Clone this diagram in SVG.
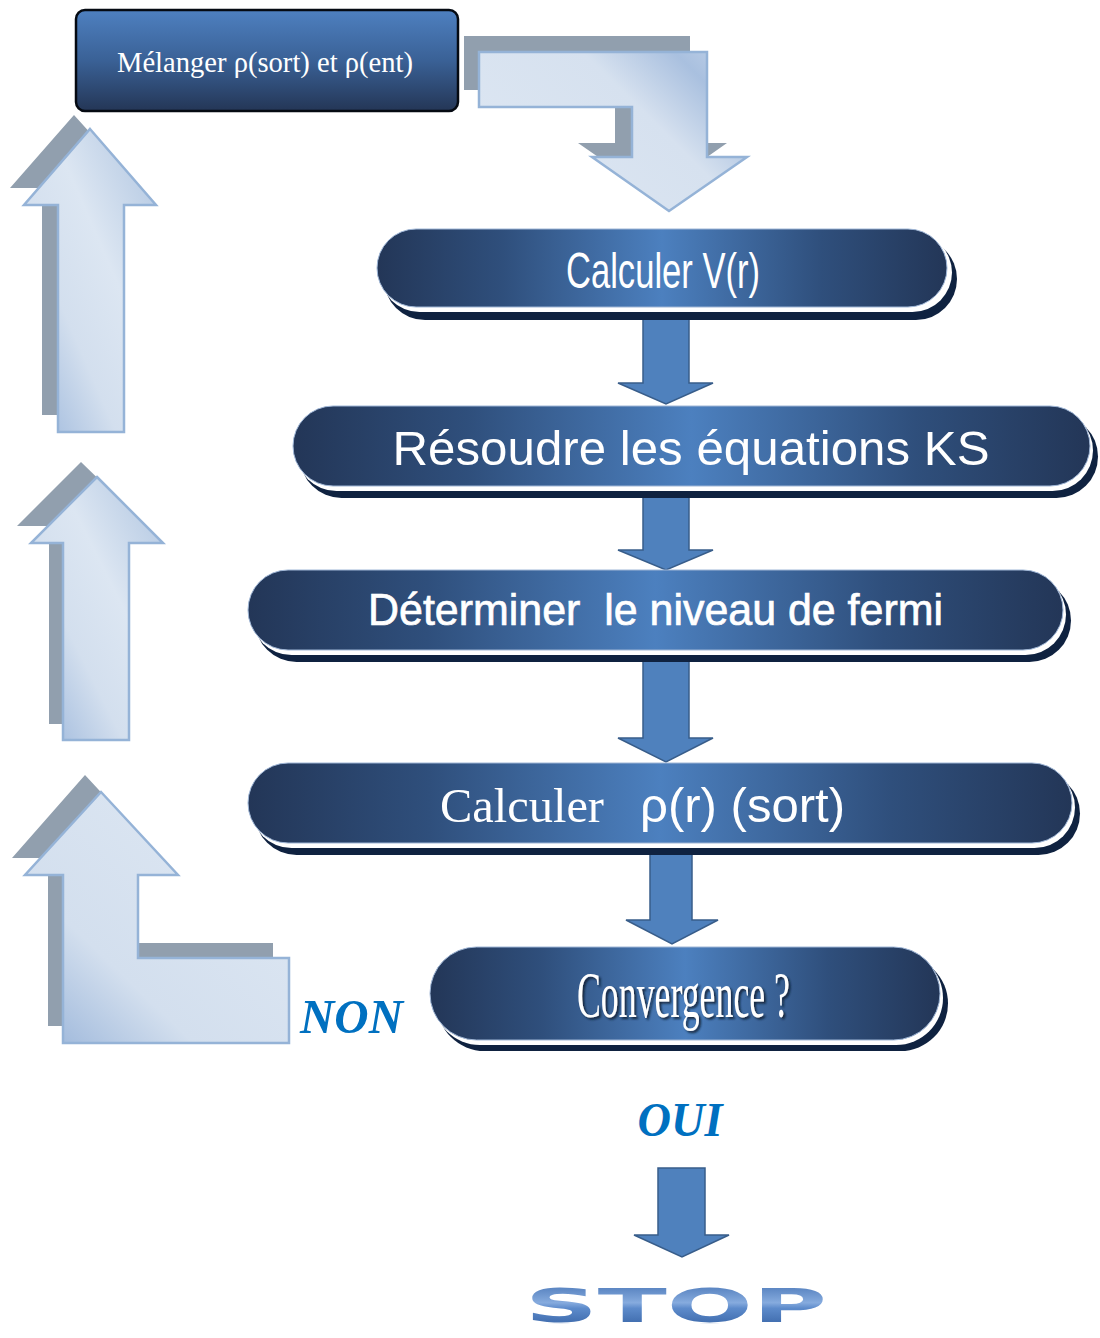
<svg xmlns="http://www.w3.org/2000/svg" xmlns:xlink="http://www.w3.org/1999/xlink" width="1100" height="1338" viewBox="0 0 1100 1338">
  <defs>
    <!-- dark blue pill body: dark ends, bright centre -->
    <linearGradient id="pillFill" x1="0" y1="0" x2="1" y2="0">
      <stop offset="0" stop-color="#233657"/>
      <stop offset="0.22" stop-color="#2f4f7c"/>
      <stop offset="0.5" stop-color="#4c80bf"/>
      <stop offset="0.78" stop-color="#2f4f7c"/>
      <stop offset="1" stop-color="#233657"/>
    </linearGradient>
    <!-- mixing box: light top, dark bottom -->
    <linearGradient id="boxFill" x1="0" y1="0" x2="0" y2="1">
      <stop offset="0" stop-color="#4e80c0"/>
      <stop offset="0.5" stop-color="#3a6196"/>
      <stop offset="1" stop-color="#243656"/>
    </linearGradient>
    <!-- pale loop-back arrows -->
    <linearGradient id="paleUp" x1="0" y1="1" x2="1" y2="0">
      <stop offset="0" stop-color="#98b4da"/>
      <stop offset="0.35" stop-color="#d3dfee"/>
      <stop offset="0.6" stop-color="#dce6f2"/>
      <stop offset="1" stop-color="#aec4e0"/>
    </linearGradient>
    <linearGradient id="paleL" x1="0" y1="1" x2="0.8" y2="0.2">
      <stop offset="0" stop-color="#96b2d8"/>
      <stop offset="0.4" stop-color="#d3dfee"/>
      <stop offset="1" stop-color="#dce6f2"/>
    </linearGradient>
    <linearGradient id="paleBend" x1="0" y1="0.6" x2="1" y2="0">
      <stop offset="0" stop-color="#dce6f2"/>
      <stop offset="0.55" stop-color="#d6e1ef"/>
      <stop offset="0.8" stop-color="#a9c0df"/>
      <stop offset="1" stop-color="#c4d4ea"/>
    </linearGradient>
    <linearGradient id="stopFill" x1="0" y1="0" x2="0" y2="1">
      <stop offset="0" stop-color="#3f6db0"/>
      <stop offset="0.45" stop-color="#86abde"/>
      <stop offset="0.55" stop-color="#5d8bcb"/>
      <stop offset="1" stop-color="#2e5a9c"/>
    </linearGradient>
    <linearGradient id="fade" x1="0" y1="0" x2="0" y2="1">
      <stop offset="0" stop-color="#fff" stop-opacity="0.45"/>
      <stop offset="1" stop-color="#fff" stop-opacity="0"/>
    </linearGradient>
    <mask id="reflMask" maskUnits="userSpaceOnUse" x="500" y="1322" width="360" height="16">
      <rect x="500" y="1322" width="360" height="16" fill="url(#fade)"/>
    </mask>
    <filter id="txtShadow" x="-10%" y="-20%" width="120%" height="140%">
      <feDropShadow dx="2" dy="2" stdDeviation="1" flood-color="#0b1a33" flood-opacity="0.9"/>
    </filter>
  </defs>
  <style>
    .pillShadow { fill: #0f2240; }
    .pillRing { fill: #ffffff; }
    .pillBody { fill: url(#pillFill); stroke: #9fb6d6; stroke-width: 1; }
    .lbl { fill: #ffffff; }
    .heavy { stroke: #ffffff; stroke-width: 0.7; }
    .sans { font-family: "Liberation Sans", Arial, sans-serif; }
    .serif { font-family: "Liberation Serif", "Times New Roman", serif; }
    .flow { fill: #4f81bd; stroke: #385d8a; stroke-width: 1.5; }
    .ghost { fill: #919fae; }
    .paleEdge { stroke: #95b3d7; stroke-width: 2.5; }
    .answer { font-family: "Liberation Serif", "Times New Roman", serif; font-style: italic; font-weight: bold; fill: #0070c0; }
  </style>

  <!-- connectors: flow arrows and loop-back arrows -->
  <g id="connectors">
    <!-- loop-back from convergence to the mixing box -->
    <polygon class="ghost" points="85,775 162,858 122,858 122,943 273,943 273,1026 48,1026 48,858 12,858"/>
    <polygon class="paleEdge" fill="url(#paleL)" points="101,792 178,875 138,875 138,958 289,958 289,1043 63,1043 63,875 25,875"/>
    <polygon class="ghost" points="81,462 147,526 113,526 113,724 49,724 49,526 17,526"/>
    <polygon class="paleEdge" fill="url(#paleUp)" points="97,477 163,543 129,543 129,740 63,740 63,543 31,543"/>
    <polygon class="ghost" points="74,115 140,188 108,188 108,415 42,415 42,188 10,188"/>
    <polygon class="paleEdge" fill="url(#paleUp)" points="90,129 156,205 124,205 124,432 58,432 58,205 24,205"/>
    <!-- bent arrow from the mixing box back to V(r) -->
    <polygon class="ghost" points="464,36 690,36 690,143 727,143 653,195 578,143 615,143 615,90 464,90"/>
    <polygon class="paleEdge" fill="url(#paleBend)" points="479,52 707,52 707,157 747,157 669,211 592,157 632,157 632,107 479,107"/>

    <!-- main downward flow -->
    <polygon class="flow" points="643,318 689,318 689,383 713,383 666,404 618,383 643,383"/>
    <polygon class="flow" points="643,495 689,495 689,550 713,550 666,570 618,550 643,550"/>
    <polygon class="flow" points="643,660 689,660 689,738 713,738 666,762 618,738 643,738"/>
    <polygon class="flow" points="650,853 692,853 692,920 718,920 672,944 626,920 650,920"/>
    <polygon class="flow" points="658,1168 705,1168 705,1235 729,1235 682,1257 634,1235 658,1235"/>

    <text class="answer" x="300" y="1033" font-size="49" textLength="103" lengthAdjust="spacingAndGlyphs">NON</text>
    <text class="answer" x="680" y="1136" font-size="48" text-anchor="middle" textLength="85" lengthAdjust="spacingAndGlyphs">OUI</text>
  </g>

  <!-- mixing step -->
  <g id="node-melanger">
    <rect x="76" y="10" width="382" height="101" rx="9" fill="url(#boxFill)" stroke="#050a12" stroke-width="2.5"/>
    <text class="serif lbl" x="265" y="72" font-size="28.5" text-anchor="middle" textLength="296" lengthAdjust="spacingAndGlyphs">Mélanger ρ(sort) et ρ(ent)</text>
  </g>

  <g id="node-potentiel">
    <rect class="pillShadow" x="384" y="238" width="573" height="82" rx="41"/>
    <rect class="pillRing" x="380" y="233" width="572" height="79" rx="39.5"/>
    <rect class="pillBody" x="377" y="229" width="570" height="78" rx="39"/>
    <text class="sans lbl" x="663" y="288" font-size="50" text-anchor="middle" textLength="194" lengthAdjust="spacingAndGlyphs">Calculer V(r)</text>
  </g>

  <g id="node-ks">
    <rect class="pillShadow" x="300" y="415" width="798" height="83" rx="41.5"/>
    <rect class="pillRing" x="296" y="410" width="797" height="81" rx="40.5"/>
    <rect class="pillBody" x="293" y="406" width="797" height="80" rx="40"/>
    <text class="sans lbl" x="691" y="465" font-size="49" text-anchor="middle" textLength="597" lengthAdjust="spacingAndGlyphs">Résoudre les équations KS</text>
  </g>

  <g id="node-fermi">
    <rect class="pillShadow" x="255" y="579" width="816" height="83" rx="41.5"/>
    <rect class="pillRing" x="251" y="574" width="815" height="81" rx="40.5"/>
    <rect class="pillBody" x="248" y="570" width="815" height="80" rx="40"/>
    <text class="sans lbl heavy" x="655.5" y="625" font-size="44" text-anchor="middle" textLength="575" lengthAdjust="spacingAndGlyphs" xml:space="preserve">Déterminer  le niveau de fermi</text>
  </g>

  <g id="node-densite">
    <rect class="pillShadow" x="255" y="772" width="825" height="83" rx="41.5"/>
    <rect class="pillRing" x="251" y="767" width="824" height="81" rx="40.5"/>
    <rect class="pillBody" x="248" y="763" width="824" height="80" rx="40"/>
    <text class="lbl" y="822" font-size="48" xml:space="preserve"><tspan class="serif" x="440" textLength="164" lengthAdjust="spacingAndGlyphs">Calculer</tspan><tspan class="sans" x="640" textLength="205" lengthAdjust="spacingAndGlyphs">ρ(r) (sort)</tspan></text>
  </g>

  <g id="node-convergence">
    <rect class="pillShadow" x="437" y="956" width="511" height="95" rx="47.5"/>
    <rect class="pillRing" x="433" y="951" width="510" height="94" rx="47"/>
    <rect class="pillBody" x="430" y="947" width="510" height="93" rx="46.5"/>
    <text class="serif lbl" x="683.5" y="1017" font-size="66" text-anchor="middle" textLength="213" lengthAdjust="spacingAndGlyphs" filter="url(#txtShadow)">Convergence ?</text>
  </g>

  <g id="node-stop">
    <text id="stopWord" x="676" y="1322" font-family="'DejaVu Sans', 'Liberation Sans', sans-serif" font-weight="bold" font-size="47" text-anchor="middle" textLength="302" lengthAdjust="spacingAndGlyphs" fill="url(#stopFill)">STOP</text>
    <use xlink:href="#stopWord" transform="translate(0,2646) scale(1,-1)" mask="url(#reflMask)" opacity="0.6"/>
  </g>
</svg>
